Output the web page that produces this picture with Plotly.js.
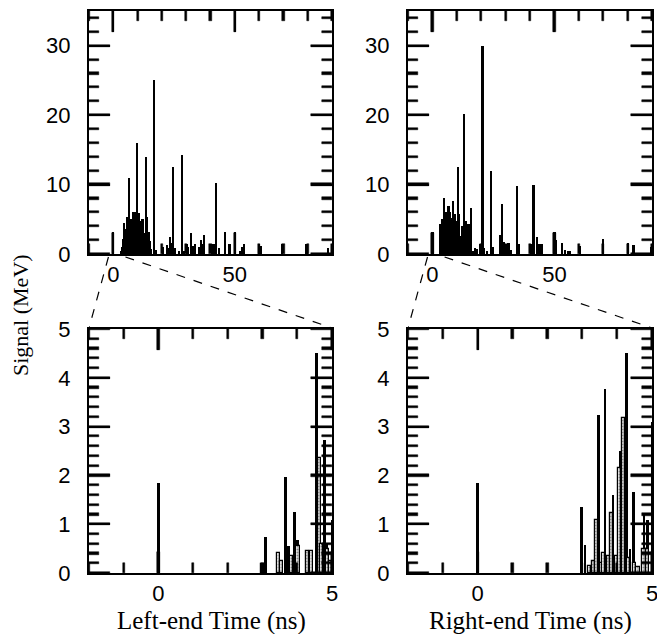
<!DOCTYPE html>
<html>
<head>
<meta charset="utf-8">
<script src="https://cdn.plot.ly/plotly-3.0.1.min.js"></script>
<style>html,body{margin:0;padding:0;background:#fff}#chart{width:657px;height:634px}</style>
</head>
<body>
<div id="chart"></div>
<script>
// ---- Data ----
const leftFullTime = [0, 3, 3.5, 4, 4.5, 5, 5.5, 6, 6.5, 7, 7.5, 8, 8.5, 9, 9.5, 9.9, 10.5, 11, 11.5, 12, 12.5, 13, 13.5, 14, 14.5, 15, 15.5, 16.8, 17.5, 20.5, 22, 22.5, 23.3, 23.9, 24.6, 25.3, 27, 28.2, 29, 30.2, 30.8, 32, 33, 33.7, 35.1, 36, 36.7, 37.4, 40.5, 41.5, 42.3, 43.5, 45.8, 47.8, 50, 52.3, 53.2, 53.7, 59.8, 60.7, 69.5, 79.5, 88.2];
const leftFullSignal = [3.2, 0.5, 1.0, 2.2, 4.5, 3.6, 5.3, 4.0, 11.0, 3.2, 5.1, 6.1, 4.2, 6.1, 3.6, 16.0, 5.9, 4.0, 4.7, 5.1, 3.0, 2.4, 14.0, 5.3, 3.2, 1.9, 0.7, 25.0, 0.6, 1.0, 1.3, 0.9, 2.4, 1.6, 12.6, 0.8, 0.5, 14.3, 0.4, 1.5, 1.0, 3.0, 1.2, 1.5, 1.0, 2.0, 1.4, 2.8, 1.5, 1.5, 10.2, 0.8, 3.2, 1.5, 3.2, 0.5, 1.0, 1.5, 1.5, 1.2, 1.5, 1.5, 0.8];

const rightFullTime = [0, 3.0, 3.3, 3.9, 4.4, 4.9, 5.5, 6.0, 6.6, 7.2, 7.7, 8.3, 8.8, 9.3, 9.8, 10.4, 10.9, 11.4, 12.0, 12.5, 13.1, 13.7, 14.3, 14.8, 15.7, 16.5, 17.5, 18.3, 19.5, 20.5, 21.2, 22.5, 24.0, 24.6, 27.7, 28.6, 29.4, 30.2, 31.2, 32.1, 34.6, 35.4, 40.3, 41.4, 42.8, 43.9, 44.8, 50.0, 50.7, 53.0, 54.4, 55.5, 56.4, 60.5, 69.8, 80.0, 82.4, 89.5];
const rightFullSignal = [3.2, 2.0, 4.3, 5.0, 3.8, 8.0, 6.0, 5.5, 6.9, 6.0, 5.2, 7.6, 5.0, 5.7, 4.8, 12.6, 5.7, 2.6, 4.1, 3.3, 20.2, 4.8, 3.8, 4.3, 6.6, 0.4, 0.8, 0.7, 1.4, 30.0, 0.8, 0.4, 12.0, 1.0, 2.7, 7.2, 1.7, 1.4, 1.6, 0.6, 9.8, 1.4, 1.4, 9.9, 2.5, 1.5, 1.4, 3.2, 2.0, 1.6, 0.6, 0.4, 0.4, 1.1, 2.1, 1.6, 1.3, 1.0];

const leftZoomBlackTime = [0, 3.09, 3.66, 3.74, 3.93, 4.01, 4.55, 4.78, 4.84, 5.0];
const leftZoomBlackSignal = [1.85, 0.73, 1.97, 0.55, 1.25, 0.68, 4.51, 2.73, 0.6, 1.08];
const leftZoomGrayTime = [3.0, 3.45, 3.55, 3.84, 4.02, 4.3, 4.4, 4.63, 4.7, 4.88, 4.95];
const leftZoomGraySignal = [0.18, 0.40, 0.25, 0.35, 0.55, 0.45, 0.45, 2.36, 0.6, 0.5, 0.25];

const rightZoomBlackTime = [0, 2.98, 3.08, 3.47, 3.65, 3.88, 4.1, 4.27, 4.37, 4.46, 4.77, 4.88, 5.0];
const rightZoomBlackSignal = [1.85, 1.36, 0.58, 3.23, 3.78, 1.6, 2.5, 4.5, 0.5, 1.65, 1.23, 1.09, 3.09];
const rightZoomGrayTime = [3.2, 3.32, 3.40, 3.55, 3.62, 3.75, 3.85, 3.97, 4.06, 4.18, 4.32, 4.5, 4.6, 4.77, 4.88];
const rightZoomGraySignal = [0.15, 0.25, 1.09, 0.2, 0.4, 0.35, 1.23, 0.35, 2.15, 3.18, 0.3, 0.2, 0.12, 0.5, 0.5];

const xTitles = ["Left-end Time (ns)", "Right-end Time (ns)"];
const yTitle = "Signal (MeV)";

const W = 657, H = 634;
const dxL = [89 / W, 332 / W], dxR = [408 / W, 652 / W];
const dyT = [1 - 254 / H, 1 - 11 / H], dyB = [1 - 573 / H, 1 - 329 / H];
const fullRange = [-10, 90], zoomRange = [-2, 5];
const fullSigRange = [0, 35], zoomSigRange = [0, 5];

function blackBars(x, y, xa, ya, w) {
  return {type: 'bar', x: x, y: y, xaxis: xa, yaxis: ya, width: w,
          marker: {color: '#000', line: {width: 0}}, showlegend: false, hoverinfo: 'skip'};
}
function grayBars(x, y, xa, ya, w) {
  return {type: 'bar', x: x, y: y, xaxis: xa, yaxis: ya, width: w,
          marker: {color: '#d6d6d6', line: {color: '#000', width: 1.2},
                   pattern: {shape: '.', fgcolor: '#8a8a8a', bgcolor: '#e6e6e6', size: 3, solidity: 0.35}},
          showlegend: false, hoverinfo: 'skip'};
}

// Frame tick marks (major + minor on all four sides), as thin bars in axis units
const panelPx = 243, tickPx = 2.2;
function tickBars(xa, ya, xr, yr, xMaj, xMin, yMaj, yMin) {
  const xspan = xr[1] - xr[0], yspan = yr[1] - yr[0];
  const isMul = (v, d) => Math.abs(v / d - Math.round(v / d)) < 1e-6;
  const xp = [], xl = [], xtop = [];
  for (let i = Math.ceil(xr[0] / xMin - 1e-9); i * xMin <= xr[1] + 1e-9; i++) {
    const v = Math.round(i * xMin * 1000) / 1000;
    const L = (isMul(v, xMaj) ? 21 : 10) / panelPx * yspan;
    xp.push(v); xl.push(L); xtop.push(yr[1] - L);
  }
  const yp = [], yl = [], yright = [];
  for (let i = Math.ceil(yr[0] / yMin - 1e-9); i * yMin <= yr[1] + 1e-9; i++) {
    const v = Math.round(i * yMin * 1000) / 1000;
    const L = (isMul(v, yMaj) ? 21 : 10) / panelPx * xspan;
    yp.push(v); yl.push(L); yright.push(xr[1] - L);
  }
  const wx = tickPx / panelPx * xspan, wy = tickPx / panelPx * yspan;
  const mk = () => ({color: '#000', line: {color: '#000', width: 0.5}});
  const base = {xaxis: xa, yaxis: ya, showlegend: false, hoverinfo: 'skip'};
  return [
    Object.assign({type: 'bar', x: xp, y: xl, base: yr[0], width: wx, marker: mk()}, base),
    Object.assign({type: 'bar', x: xp, y: xl, base: xtop, width: wx, marker: mk()}, base),
    Object.assign({type: 'bar', orientation: 'h', y: yp, x: yl, base: xr[0], width: wy, marker: mk()}, base),
    Object.assign({type: 'bar', orientation: 'h', y: yp, x: yl, base: yright, width: wy, marker: mk()}, base)
  ];
}

const data = [
  blackBars(leftFullTime, leftFullSignal, 'x', 'y', 0.9),
  blackBars(rightFullTime, rightFullSignal, 'x2', 'y2', 0.9),
  blackBars(leftZoomBlackTime, leftZoomBlackSignal, 'x3', 'y3', 0.08),
  grayBars(leftZoomGrayTime, leftZoomGraySignal, 'x3', 'y3', 0.09),
  blackBars(rightZoomBlackTime, rightZoomBlackSignal, 'x4', 'y4', 0.08),
  grayBars(rightZoomGrayTime, rightZoomGraySignal, 'x4', 'y4', 0.09)
].concat(
  tickBars('x', 'y', fullRange, fullSigRange, 50, 10, 10, 2),
  tickBars('x2', 'y2', fullRange, fullSigRange, 50, 10, 10, 2),
  tickBars('x3', 'y3', zoomRange, zoomSigRange, 5, 1, 1, 0.2),
  tickBars('x4', 'y4', zoomRange, zoomSigRange, 5, 1, 1, 0.2)
);

const tickFont = {family: 'Liberation Sans, Arial, sans-serif', size: 22, color: '#000'};
const NB = '\u00a0';
function axis(isX, domain, anchor, range, dtick) {
  const a = {domain: domain, anchor: anchor, range: range, autorange: false, showgrid: false, zeroline: false,
          showline: true, linecolor: '#000', linewidth: 2, mirror: 'ticks',
          ticks: 'inside', ticklen: 21, tickwidth: 2, tickcolor: '#000',
          tickmode: 'linear', tick0: 0, dtick: dtick, tickfont: tickFont,
          ticklabeloverflow: 'allow', fixedrange: true};
  if (!isX) a.ticksuffix = NB + NB;
  return a;
}

const lineStart = 1 - 257 / H, lineEnd = 1 - 328 / H;
const dashStyle = {color: '#000', width: 1.2, dash: 'dash'};
const serif = 'Liberation Serif, Times New Roman, serif';

const layout = {
  width: W, height: H,
  margin: {l: 0, r: 0, t: 0, b: 0},
  paper_bgcolor: '#fff', plot_bgcolor: '#fff',
  barmode: 'overlay', bargap: 0,
  xaxis: axis(true, dxL, 'y', fullRange, 50),
  yaxis: axis(false, dyT, 'x', fullSigRange, 10),
  xaxis2: axis(true, dxR, 'y2', fullRange, 50),
  yaxis2: axis(false, dyT, 'x2', fullSigRange, 10),
  xaxis3: axis(true, dxL, 'y3', zoomRange, 5),
  yaxis3: axis(false, dyB, 'x3', zoomSigRange, 1),
  xaxis4: axis(true, dxR, 'y4', zoomRange, 5),
  yaxis4: axis(false, dyB, 'x4', zoomSigRange, 1),
  shapes: [
    {type: 'line', xref: 'x', yref: 'paper', x0: -2, y0: lineStart, x1: -10, y1: lineEnd, line: dashStyle},
    {type: 'line', xref: 'x', yref: 'paper', x0: 5, y0: lineStart, x1: 90, y1: lineEnd, line: dashStyle},
    {type: 'line', xref: 'x2', yref: 'paper', x0: -2, y0: lineStart, x1: -10, y1: lineEnd, line: dashStyle},
    {type: 'line', xref: 'x2', yref: 'paper', x0: 5, y0: lineStart, x1: 90, y1: lineEnd, line: dashStyle}
  ],
  annotations: [
    {text: yTitle, xref: 'paper', yref: 'paper', x: 20 / W, y: 1 - 315 / H, textangle: -90,
     showarrow: false, xanchor: 'center', yanchor: 'middle',
     font: {family: serif, size: 22, color: '#000'}},
    {text: xTitles[0], xref: 'paper', yref: 'paper', x: 211 / W, y: 1 - 621 / H,
     showarrow: false, xanchor: 'center', yanchor: 'middle',
     font: {family: serif, size: 25, color: '#000'}},
    {text: xTitles[1], xref: 'paper', yref: 'paper', x: 530 / W, y: 1 - 621 / H,
     showarrow: false, xanchor: 'center', yanchor: 'middle',
     font: {family: serif, size: 25, color: '#000'}}
  ]
};

Plotly.newPlot('chart', data, layout, {displayModeBar: false});
</script>
</body>
</html>
